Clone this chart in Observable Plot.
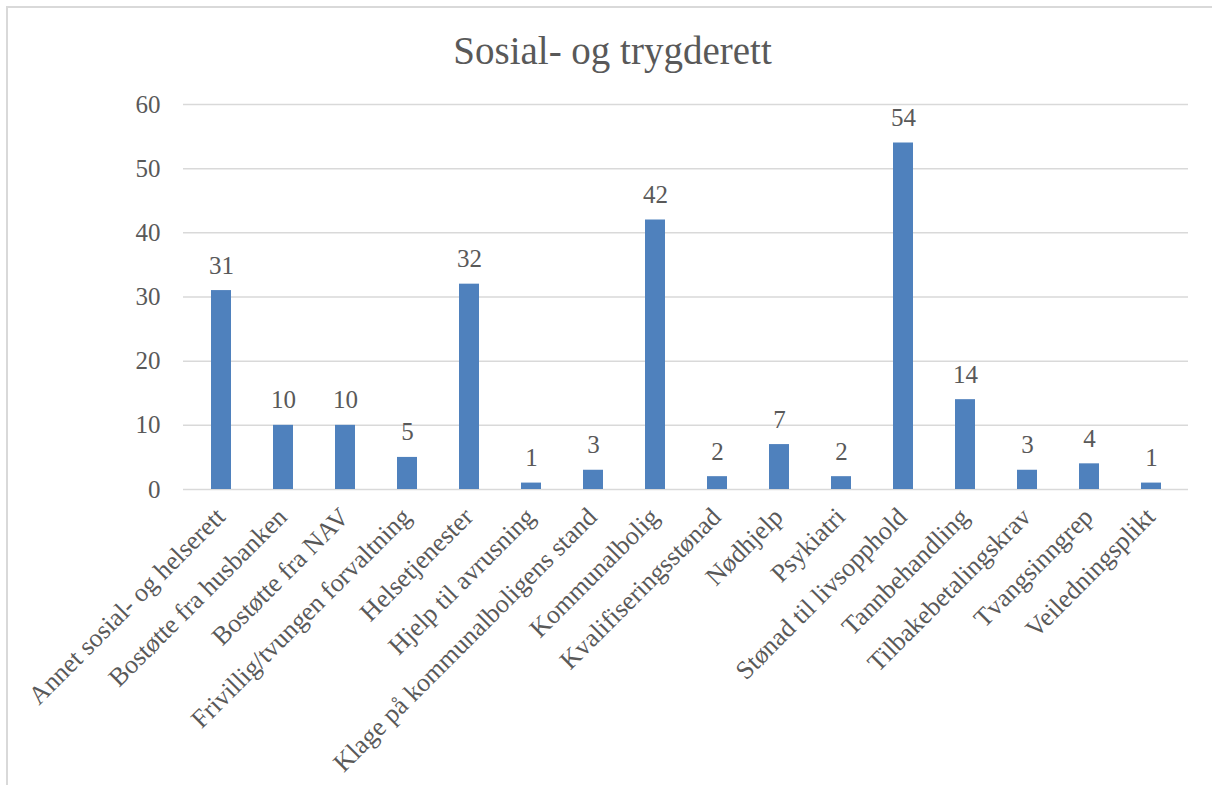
<!DOCTYPE html>
<html>
<head>
<meta charset="utf-8">
<script src="https://cdn.jsdelivr.net/npm/d3@7"></script>
<script src="https://cdn.jsdelivr.net/npm/@observablehq/plot@0.6"></script>
<style>
  html, body { margin: 0; padding: 0; background: #fff; overflow: hidden; width: 1212px; height: 785px; }
  #frame { position: absolute; left: 6px; top: 6px; width: 1250px; height: 850px; border: 2px solid #d9d9d9; box-sizing: border-box; }
  #chart { position: absolute; left: 0; top: 0; width: 1212px; }
  #title { box-sizing: border-box; height: 80px; padding-top: 31px; padding-left: 13px; text-align: center;
           font-family: "Liberation Serif", serif; font-size: 39px; line-height: 39px; color: #595959; white-space: nowrap; }
</style>
</head>
<body>
<div id="frame"></div>
<div id="chart"><div id="title">Sosial- og trygderett</div></div>
<script>
const categories = [
  "Annet sosial- og helserett",
  "Bostøtte fra husbanken",
  "Bostøtte fra NAV",
  "Frivillig/tvungen forvaltning",
  "Helsetjenester",
  "Hjelp til avrusning",
  "Klage på kommunalboligens stand",
  "Kommunalbolig",
  "Kvalifiseringsstønad",
  "Nødhjelp",
  "Psykiatri",
  "Stønad til livsopphold",
  "Tannbehandling",
  "Tilbakebetalingskrav",
  "Tvangsinngrep",
  "Veiledningsplikt"
];
const values = [31, 10, 10, 5, 32, 1, 3, 42, 2, 7, 2, 54, 14, 3, 4, 1];
const yTicks = [0, 10, 20, 30, 40, 50, 60];

const data = categories.map((c, i) => ({category: c, value: values[i]}));
const textColor = "#595959";

const chart = Plot.plot({
  width: 1212,
  height: 705,
  marginTop: 24,
  marginBottom: 296,
  marginLeft: 183,
  marginRight: 24,
  style: {fontFamily: "Liberation Serif, serif", color: textColor, background: "transparent"},
  x: {domain: categories, paddingInner: 0.68, paddingOuter: 0.34, axis: null},
  y: {domain: [0, 60], axis: null},
  marks: [
    Plot.ruleY(yTicks, {stroke: "#d9d9d9", strokeWidth: 1.5}),
    Plot.barY(data, {x: "category", y: "value", fill: "#4f81bd"}),
    Plot.axisY({ticks: yTicks, label: null, tickSize: 0, tickPadding: 23, fontSize: 25, fill: textColor, tickFormat: d => String(d)}),
    Plot.text(data, {x: "category", y: "value", text: d => String(d.value), dy: -17, lineAnchor: "bottom", fontSize: 25, fill: textColor}),
    Plot.text(categories, {x: d => d, frameAnchor: "bottom", text: d => d, rotate: -45, textAnchor: "end", dx: 5, dy: 29, fontSize: 26, fill: textColor})
  ]
});
document.getElementById("chart").appendChild(chart);
</script>
</body>
</html>
